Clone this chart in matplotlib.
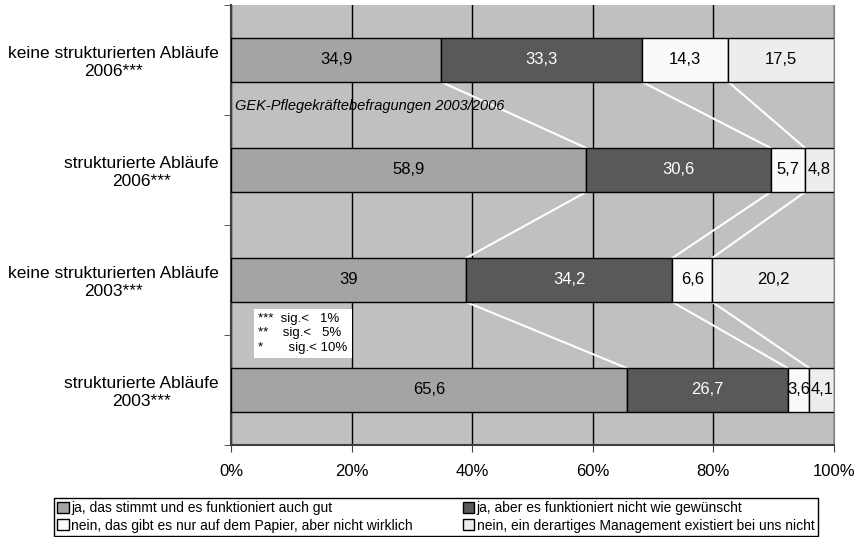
import matplotlib
matplotlib.use('Agg')
import matplotlib.pyplot as plt
from matplotlib.patches import Patch
import numpy as np

plt.rcParams['font.family'] = ['Liberation Sans', 'DejaVu Sans']

kategorien = ["keine strukturierten Abläufe\n2006***",
              "strukturierte Abläufe\n2006***",
              "keine strukturierten Abläufe\n2003***",
              "strukturierte Abläufe\n2003***"]
ja_gut = [34.9, 58.9, 39, 65.6]
ja_nicht_gut = [33.3, 30.6, 34.2, 26.7]
nur_papier = [14.3, 5.7, 6.6, 3.6]
kein_management = [17.5, 4.8, 20.2, 4.1]

serien = ["ja, das stimmt und es funktioniert auch gut",
          "ja, aber es funktioniert nicht wie gewünscht",
          "nein, das gibt es nur auf dem Papier, aber nicht wirklich",
          "nein, ein derartiges Management existiert bei uns nicht"]
farben = ['#A4A4A4', '#595959', '#FAFAFA', '#EDEDED']
textfarben = ['black', 'white', 'black', 'black']

fig = plt.figure(figsize=(8.6, 5.37), dpi=100)
ax = fig.add_axes([231/860, 92/537, 603/860, 440/537])
ax.set_facecolor('#C0C0C0')

daten = np.array([ja_gut, ja_nicht_gut, nur_papier, kein_management])
y = np.arange(len(kategorien))
h = 0.4
links = np.zeros(len(kategorien))
for i in range(4):
    ax.barh(y, daten[i], height=h, left=links, color=farben[i],
            edgecolor='black', linewidth=1, zorder=3)
    for j in range(len(kategorien)):
        wert = daten[i][j]
        txt = ('%g' % wert).replace('.', ',')
        ax.text(links[j] + wert / 2, y[j], txt, ha='center', va='center',
                fontsize=12, color=textfarben[i], zorder=5)
    links = links + daten[i]

# Verbindungslinien zwischen den Balken
kum = np.cumsum(daten, axis=0)
for k in range(3):
    for j in range(len(kategorien) - 1):
        ax.plot([kum[k][j], kum[k][j + 1]], [y[j] + h / 2, y[j + 1] - h / 2],
                color='white', linewidth=1.5, zorder=2)

ax.set_xlim(0, 100)
ax.set_ylim(len(kategorien) - 0.5, -0.5)
ax.set_xticks([0, 20, 40, 60, 80, 100])
ax.set_xticklabels(['0%', '20%', '40%', '60%', '80%', '100%'], fontsize=12)
ax.set_yticks(y)
ax.set_yticklabels(kategorien, fontsize=12.5, multialignment='center')
ax.set_yticks(np.arange(-0.5, len(kategorien), 1), minor=True)
ax.tick_params(axis='y', which='major', length=0, pad=9)
ax.tick_params(axis='y', which='minor', length=5, direction='out', color='#404040')
ax.tick_params(axis='x', length=5, direction='out', color='#404040', pad=9)
ax.xaxis.grid(True, color='black', linewidth=1, zorder=1)
ax.set_axisbelow(True)
for s in ['left', 'bottom']:
    ax.spines[s].set_color('#404040')
    ax.spines[s].set_linewidth(1.5)
ax.spines['right'].set_color('#808080')
ax.spines['top'].set_visible(False)

ax.text(0.6, 0.42, "GEK-Pflegekräftebefragungen 2003/2006", fontsize=10.5,
        style='italic', ha='left', va='center', zorder=4)

ax.text(4.5, 2.30, "***  sig.<   1%\n**    sig.<   5%\n*       sig.< 10%", fontsize=9.5,
        ha='left', va='top', linespacing=1.25, zorder=4,
        bbox=dict(facecolor='white', edgecolor='none', pad=3))

handles = [Patch(facecolor=farben[i], edgecolor='black', label=serien[i]) for i in [0, 2, 1, 3]]
fig.legend(handles=handles, ncol=2, loc='lower left',
           bbox_to_anchor=(54/860, 1/537, 764/860, 42/537), mode='expand',
           fontsize=10, frameon=True, fancybox=False, edgecolor='black',
           framealpha=1, borderpad=0.25, labelspacing=0.25, handlelength=0.8,
           handleheight=0.8, handletextpad=0.2, columnspacing=0.5, borderaxespad=0)

plt.savefig('out.png', dpi=100)
